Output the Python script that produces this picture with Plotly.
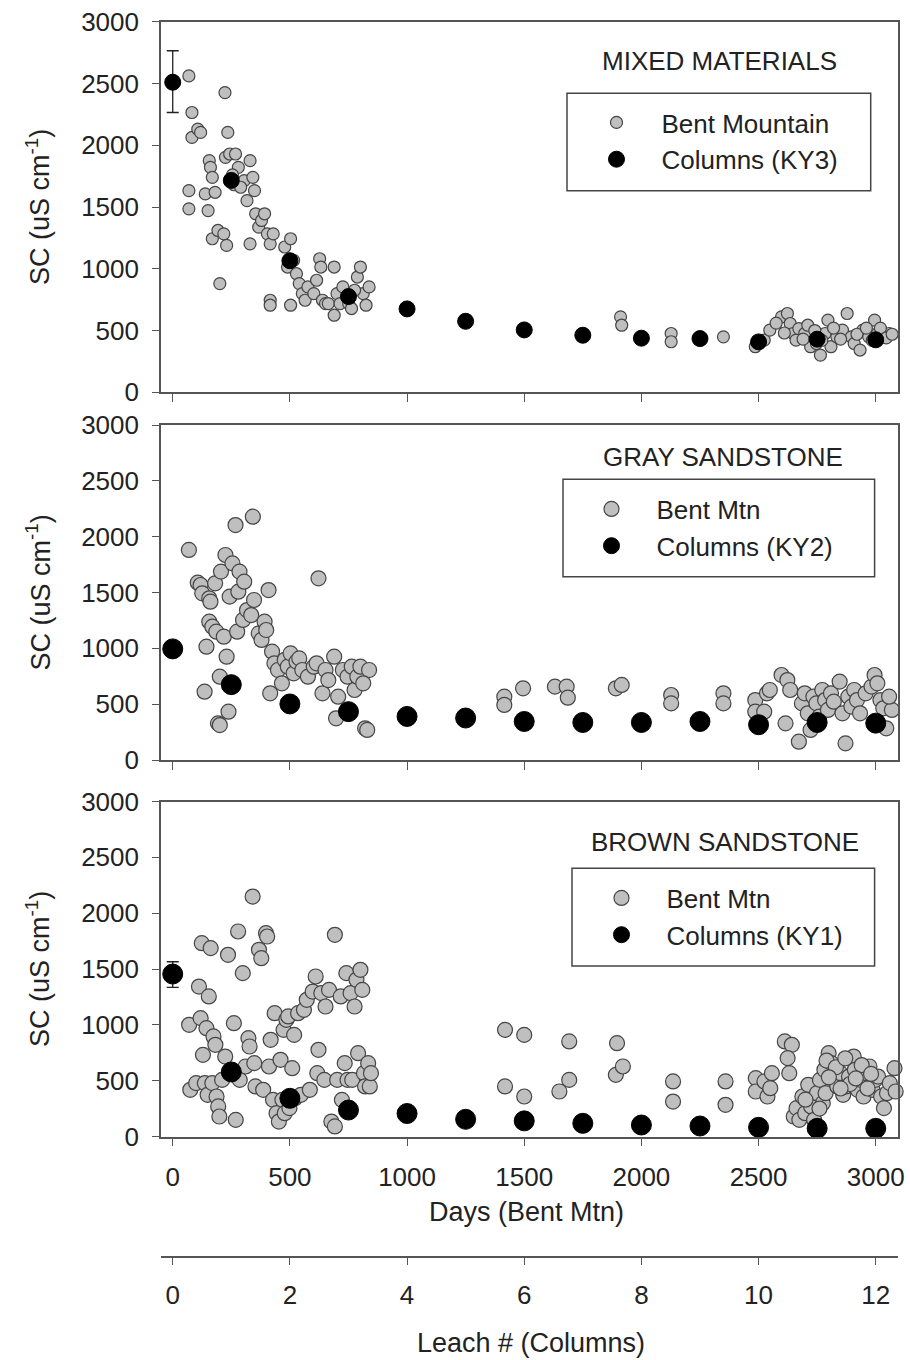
import plotly.graph_objects as go

# ---------------- DATA ----------------
leach = [0, 1, 2, 3, 4, 5, 6, 7, 8, 9, 10, 11, 12]
day_ticks = [0, 500, 1000, 1500, 2000, 2500, 3000]
leach_ticks = [0, 2, 4, 6, 8, 10, 12]
sc_ticks = [0, 500, 1000, 1500, 2000, 2500, 3000]

# Columns (lab leaching) SC by leach number
ky3_sc = [2510, 1715, 1065, 775, 675, 575, 505, 462, 438, 435, 408, 430, 425]
ky3_err_plus = [255, None, None, None, None, None, None, None, None, None, None, None, None]
ky3_err_minus = [245, None, None, None, None, None, None, None, None, None, None, None, None]
ky2_sc = [995, 675, 502, 433, 390, 376, 345, 336, 336, 345, 316, 336, 330]
ky1_sc = [1455, 578, 342, 237, 206, 154, 140, 118, 103, 94, 82, 73, 73]
ky1_err_plus = [110, None, None, None, None, None, None, None, None, None, None, None, None]
ky1_err_minus = [120, None, None, None, None, None, None, None, None, None, None, None, None]

# Bent Mountain field data: day and SC
mixed_day = [69, 82, 82, 107, 119, 69, 69, 139, 151, 156, 161, 169, 181, 169, 193, 201,
             223, 235, 218, 230, 225, 243, 268, 280, 305, 317, 330, 330, 342, 349, 354,
             367, 379, 392, 404, 416, 416, 416, 429, 478, 490, 503, 503, 516, 528, 540,
             553, 565, 577, 602, 614, 627, 632, 639, 652, 664, 689, 689, 701, 714, 726,
             751, 763, 788, 801, 813, 825, 838, 776, 255, 262, 290,
             1911, 1916, 2127, 2127, 2350, 2486, 2524, 2548,
             2598, 2623, 2635, 2648, 2660, 2672, 2697, 2710, 2722, 2747, 2764, 2784,
             2796, 2809, 2834, 2858, 2878, 2896, 2908, 2933, 2945, 2970, 2995, 3007,
             3032, 3057, 2575, 2610, 2690, 2740, 2770, 2820, 2850, 2920, 2960, 2985,
             3020, 3045, 3070]
mixed_sc = [2561, 2265, 2063, 2130, 2104, 1633, 1485, 1606, 1471, 1875, 1821, 1740, 1619,
            1243, 1310, 880, 2426, 2104, 1283, 1189, 1902, 1929, 1929, 1821, 1714, 1552,
            1202, 1875, 1740, 1633, 1445, 1337, 1391, 1445, 1283, 1202, 745, 705, 1283,
            1176, 1014, 1243, 705, 1068, 960, 880, 799, 745, 853, 799, 907, 1081, 1014,
            745, 718, 718, 624, 1014, 799, 718, 853, 718, 678, 933, 1014, 799, 705, 853,
            826, 1760, 1680, 1660,
            611, 543, 476, 409, 449, 369, 422, 503,
            611, 638, 557, 476, 422, 516, 476, 543, 369, 395, 301, 476,
            584, 369, 449, 503, 638, 449, 395, 342, 503, 449, 584, 476,
            449, 476, 560, 480, 430, 500, 420, 520, 430, 470, 520, 420,
            520, 440, 470]

gray_day = [69, 107, 119, 126, 144, 136, 156, 161, 156, 169, 181, 186, 193, 201, 201, 206,
            218, 225, 230, 238, 243, 255, 268, 275, 280, 285, 300, 305, 317, 335, 342,
            347, 367, 379, 392, 399, 409, 416, 424, 434, 449, 466, 478, 491, 503, 516,
            528, 540, 553, 577, 602, 614, 622, 639, 652, 664, 689, 697, 706, 726, 746,
            764, 776, 788, 801, 821, 830, 838, 813,
            1415, 1415, 1495, 1631, 1681, 1686, 1891, 1916, 2127, 2127, 2350, 2350,
            2486, 2486, 2536, 2548, 2524,
            2598, 2623, 2635, 2615, 2672, 2685, 2697, 2710, 2722, 2734, 2747, 2759,
            2772, 2784, 2796, 2809, 2821, 2846, 2858, 2871, 2883, 2896, 2908, 2920,
            2933, 2957, 2982, 2995, 3007, 3020, 3032, 3045, 3069, 3057]
gray_sc = [1881, 1588, 1567, 1493, 1015, 612, 1448, 1418, 1239, 1194, 1582, 1149, 328, 313,
           746, 1687, 1104, 1836, 925, 433, 1463, 1761, 2104, 1149, 1507, 1687, 1254, 1597,
           1343, 1298, 2179, 1433, 1134, 1075, 1239, 1164, 1522, 597, 970, 866, 806, 687,
           896, 836, 955, 776, 881, 910, 806, 746, 836, 866, 1627, 597, 806, 716, 925,
           373, 567, 806, 746, 836, 627, 746, 836, 284, 269, 806, 687,
           567, 493, 642, 657, 657, 558, 642, 672, 582, 507, 597, 507,
           537, 433, 597, 627, 433,
           761, 716, 627, 328, 164, 507, 597, 418, 269, 567, 507, 388,
           627, 537, 448, 597, 522, 702, 418, 149, 567, 478, 627, 537,
           418, 597, 657, 761, 687, 537, 463, 284, 448, 567]

brown_day = [70, 75, 100, 112, 119, 124, 129, 137, 144, 149, 154, 162, 169, 174, 182, 187,
             194, 199, 211, 224, 236, 244, 261, 269, 279, 286, 299, 311, 323, 328, 341,
             348, 353, 368, 378, 386, 398, 403, 411, 418, 428, 435, 443, 453, 460, 468,
             473, 478, 485, 493, 498, 510, 518, 522, 535, 547, 560, 572, 585, 597, 610,
             617, 622, 634, 647, 652, 667, 677, 692, 692, 702, 717, 722, 734, 741, 746,
             759, 766, 776, 784, 791, 801, 809, 816, 821, 834, 841, 846,
             1418, 1418, 1500, 1500, 1650, 1692, 1692, 1896, 1891, 1921, 2135, 2135,
             2359, 2359, 2488, 2488, 2525, 2538, 2550, 2557, 2612, 2642, 2624, 2631,
             2650, 2662, 2674, 2687, 2699, 2712, 2724, 2737, 2749, 2762, 2774, 2781,
             2786, 2799, 2811, 2824, 2836, 2849, 2861, 2873, 2886, 2906, 2911, 2923,
             2936, 2948, 2960, 2973, 2986, 2998, 3010, 3023, 3035, 3048, 3060, 3080, 3085,
             2790, 2830, 2870, 2890, 2940, 2965, 2700, 2760, 2800, 2850, 2915, 2980]
brown_sc = [1000, 418, 478, 1343, 1060, 1731, 731, 478, 970, 373, 1254, 1687, 478, 896,
            821, 358, 269, 179, 507, 716, 1627, 567, 1015, 149, 1836, 507, 1463, 627, 881,
            806, 2149, 657, 448, 1672, 1597, 418, 1821, 1791, 627, 866, 328, 1104, 209,
            134, 687, 328, 955, 209, 1045, 1075, 254, 612, 910, 343, 1104, 373, 1134,
            1224, 418, 1298, 1433, 567, 776, 1284, 507, 1164, 1313, 134, 90, 1806, 507,
            1254, 328, 657, 1463, 507, 1284, 507, 1164, 1403, 746, 1493, 1313, 567, 448,
            657, 448, 567,
            955, 448, 910, 358, 403, 851, 507, 836, 552, 627, 493, 313,
            493, 284, 522, 403, 493, 358, 433, 567, 851, 821, 702, 567,
            179, 254, 149, 358, 209, 463, 269, 149, 388, 507, 298, 597,
            388, 746, 657, 507, 448, 567, 373, 448, 537, 716, 597, 418,
            507, 358, 567, 627, 418, 507, 537, 358, 254, 388, 478, 612, 403,
            680, 620, 700, 470, 640, 430, 330, 250, 530, 430, 520, 560]

# ---------------- STYLE ----------------
FONT = "Liberation Sans, Arial, Helvetica, sans-serif"
TXT = "#222222"
AXC = "#555555"
W, H = 910, 1360
X0, X1 = 161, 898
DAY_RANGE = [-50, 3095]
LEACH_RANGE = [DAY_RANGE[0] / 250.0, DAY_RANGE[1] / 250.0]
panels_px = [(21.7, 392.3), (425.0, 760.0), (801.5, 1136.5)]


def py(px):
    return 1 - px / H


def pxx(px):
    return px / W


fig = go.Figure()

panel_specs = [
    dict(day=mixed_day, sc=mixed_sc, bent_name="Bent Mountain", col_name="Columns (KY3)",
         col=ky3_sc, ep=ky3_err_plus, em=ky3_err_minus, bsize=12, csize=16),
    dict(day=gray_day, sc=gray_sc, bent_name="Bent Mtn", col_name="Columns (KY2)",
         col=ky2_sc, ep=None, em=None, bsize=15, csize=20),
    dict(day=brown_day, sc=brown_sc, bent_name="Bent Mtn", col_name="Columns (KY1)",
         col=ky1_sc, ep=ky1_err_plus, em=ky1_err_minus, bsize=15, csize=20),
]

for i, p in enumerate(panel_specs):
    n = i + 1
    xa = "x" if n == 1 else f"x{n}"
    ya = "y" if n == 1 else f"y{n}"
    la = f"x{n + 3}"
    leg = "legend" if n == 1 else f"legend{n}"
    fig.add_trace(go.Scatter(
        x=p["day"], y=p["sc"], mode="markers", name=p["bent_name"],
        xaxis=xa, yaxis=ya, legend=leg, legendgroup=f"b{n}", cliponaxis=False,
        marker=dict(size=p["bsize"], color="#bfbfbf", line=dict(color="#454545", width=1.2)),
    ))
    err = None
    if p["ep"] is not None:
        err = dict(type="data", symmetric=False, array=p["ep"], arrayminus=p["em"],
                   color="#222222", thickness=1.3, width=6)
    fig.add_trace(go.Scatter(
        x=leach, y=p["col"], mode="markers", name=p["col_name"],
        xaxis=la, yaxis=ya, legend=leg, legendgroup=f"c{n}", cliponaxis=False,
        marker=dict(size=p["csize"], color="#000000", line=dict(color="#000000", width=1)),
        error_y=err,
    ))

axis_common = dict(showgrid=False, zeroline=False, showline=True, linecolor=AXC, linewidth=1.6,
                   ticks="outside", tickcolor=AXC, tickwidth=1.4, automargin=False,
                   tickfont=dict(family=FONT, size=26, color=TXT))

layout = dict(width=W, height=H, margin=dict(l=0, r=0, t=0, b=0, autoexpand=False),
              paper_bgcolor="white", plot_bgcolor="white", showlegend=True)

for i, (top, bot) in enumerate(panels_px):
    n = i + 1
    xk = "xaxis" if n == 1 else f"xaxis{n}"
    yk = "yaxis" if n == 1 else f"yaxis{n}"
    ya = "y" if n == 1 else f"y{n}"
    xa = "x" if n == 1 else f"x{n}"
    layout[xk] = dict(axis_common, domain=[pxx(X0), pxx(X1)], range=DAY_RANGE, anchor=ya,
                      tickvals=day_ticks, ticklen=8, mirror=True,
                      showticklabels=(n == 3), ticklabelstandoff=8)
    layout[yk] = dict(axis_common, domain=[py(bot), py(top)], range=[0, 3000], anchor=xa,
                      tickvals=sc_ticks, ticklen=7, mirror=True, ticklabelstandoff=8)
    lk = f"xaxis{n + 3}"
    if n < 3:
        layout[lk] = dict(overlaying=xa, anchor=ya, range=LEACH_RANGE, visible=False,
                          automargin=False, domain=[pxx(X0), pxx(X1)])
    else:
        layout[lk] = dict(axis_common, overlaying=xa, anchor="free", position=py(1256.7),
                          range=LEACH_RANGE, domain=[pxx(X0), pxx(X1)], side="bottom",
                          tickvals=leach_ticks, ticklen=7, ticklabelstandoff=8)

legend_boxes = [(567, 93.3, 870.7, 190.7), (563, 479.3, 874.6, 576.7), (572, 868.3, 874.6, 966.0)]
legend_left_px = [571.5, 566.5, 576.5]
legend_top_px = [99.0, 485.5, 874.5]
for i, (lx0, ly0, lx1, ly1) in enumerate(legend_boxes):
    n = i + 1
    lk = "legend" if n == 1 else f"legend{n}"
    layout[lk] = dict(x=pxx(legend_left_px[i]), y=py(legend_top_px[i]),
                      xanchor="left", yanchor="top",
                      bgcolor="rgba(0,0,0,0)", borderwidth=0, itemwidth=80,
                      traceorder="grouped", tracegroupgap=0,
                      font=dict(family=FONT, size=26, color=TXT))

fig.update_layout(**layout)

for (lx0, ly0, lx1, ly1) in legend_boxes:
    fig.add_shape(type="rect", xref="paper", yref="paper",
                  x0=pxx(lx0), x1=pxx(lx1), y0=py(ly1), y1=py(ly0),
                  line=dict(color="#444444", width=1.5), fillcolor="rgba(0,0,0,0)")

titles = [("MIXED MATERIALS", 719, 61), ("GRAY SANDSTONE", 723, 457), ("BROWN SANDSTONE", 725, 842)]
for t, x, y in titles:
    fig.add_annotation(text=t, x=pxx(x), y=py(y), xref="paper", yref="paper",
                       showarrow=False, xanchor="center", yanchor="middle",
                       font=dict(family=FONT, size=26, color=TXT))

for (top, bot) in panels_px:
    fig.add_annotation(text="SC (uS cm<sup>-1</sup>)", x=pxx(38), y=py((top + bot) / 2),
                       xref="paper", yref="paper", showarrow=False, textangle=-90,
                       xanchor="center", yanchor="middle",
                       font=dict(family=FONT, size=27, color=TXT))

fig.add_annotation(text="Days (Bent Mtn)", x=pxx(526), y=py(1212), xref="paper", yref="paper",
                   showarrow=False, xanchor="center", yanchor="middle",
                   font=dict(family=FONT, size=27, color=TXT))
fig.add_annotation(text="Leach # (Columns)", x=pxx(531), y=py(1343), xref="paper", yref="paper",
                   showarrow=False, xanchor="center", yanchor="middle",
                   font=dict(family=FONT, size=27, color=TXT))

fig.write_html("out.html")
